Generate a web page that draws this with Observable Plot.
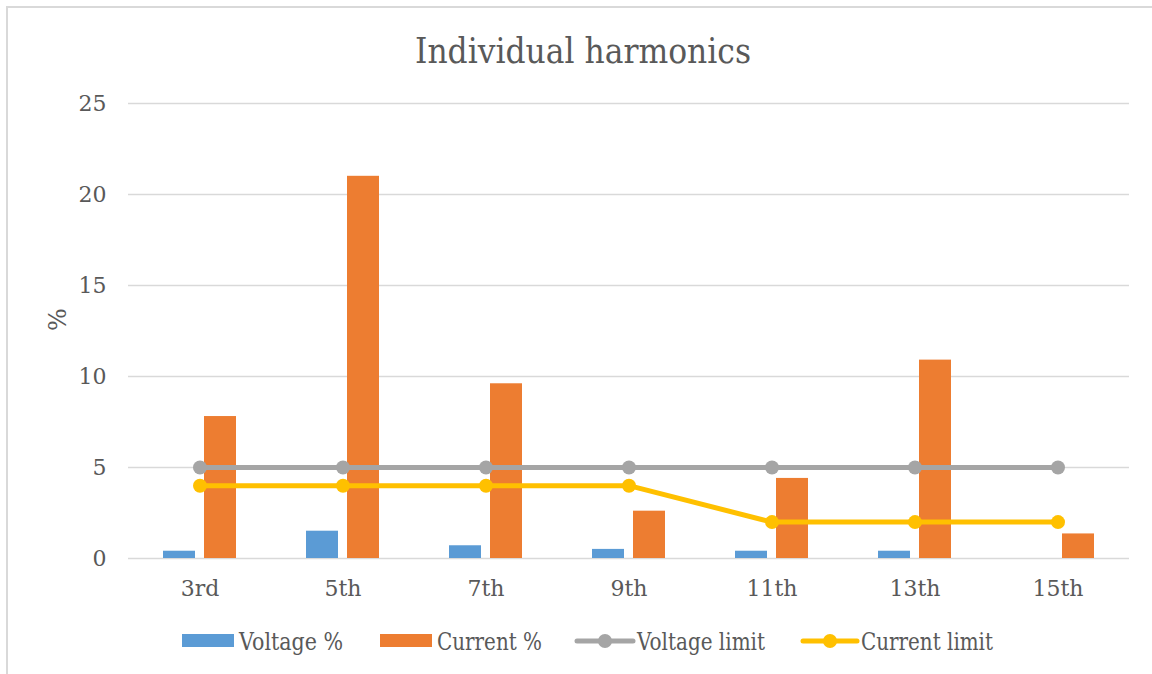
<!DOCTYPE html>
<html>
<head>
<meta charset="utf-8">
<script src="https://cdn.jsdelivr.net/npm/d3@7"></script>
<script src="https://cdn.jsdelivr.net/npm/@observablehq/plot@0.6"></script>
<style>
  html, body { margin: 0; padding: 0; background: #fff; }
  #wrap { position: relative; width: 1152px; height: 674px; overflow: hidden; font-family: "DejaVu Serif", serif; }
  #border { position: absolute; left: 6px; top: 6px; width: 1160px; height: 700px; border-left: 2px solid #d9d9d9; border-top: 2px solid #d9d9d9; pointer-events: none; }
  svg { display: block; }
</style>
</head>
<body>
<div id="wrap">
  <div id="title"></div>
  <div id="chart"></div>
  <div id="legend"></div>
  <div id="border"></div>
</div>
<script>
const categories = ["3rd", "5th", "7th", "9th", "11th", "13th", "15th"];
const voltagePct = [0.4, 1.5, 0.7, 0.5, 0.4, 0.4, 0];
const currentPct = [7.8, 21.0, 9.6, 2.6, 4.4, 10.9, 1.35];
const voltageLimit = [5, 5, 5, 5, 5, 5, 5];
const currentLimit = [4, 4, 4, 4, 2, 2, 2];
const yTicks = [0, 5, 10, 15, 20, 25];
const seriesNames = ["Voltage %", "Current %", "Voltage limit", "Current limit"];
const colors = ["#5B9BD5", "#ED7D31", "#A5A5A5", "#FFC000"];

const textColor = "#595959";

// Title
const tsvg = d3.create("svg").attr("width", 1152).attr("height", 80);
tsvg.append("text")
  .attr("x", 415).attr("y", 63)
  .attr("font-family", "DejaVu Serif").attr("font-size", 36)
  .attr("fill", textColor)
  .attr("textLength", 336).attr("lengthAdjust", "spacingAndGlyphs")
  .text("Individual harmonics");
document.getElementById("title").appendChild(tsvg.node());

const rows = categories.map((c, i) => ({
  cat: c, v: voltagePct[i], cur: currentPct[i], vl: voltageLimit[i], cl: currentLimit[i]
}));

const chart = Plot.plot({
  width: 1152,
  height: 530,
  marginTop: 23,
  marginBottom: 52,
  marginLeft: 128,
  marginRight: 23,
  style: { fontFamily: "DejaVu Serif", fontSize: "22px", color: textColor, background: "transparent" },
  x: { type: "band", domain: categories, paddingInner: 0.49, paddingOuter: 0.245, label: null },
  y: { domain: [0, 25], label: null },
  marks: [
    Plot.gridY(yTicks, { stroke: "#d9d9d9", strokeOpacity: 1, strokeWidth: 1.5 }),
    Plot.barY(rows, { x: "cat", y: "v", fill: colors[0], insetLeft: 0, insetRight: 41 }),
    Plot.barY(rows, { x: "cat", y: "cur", fill: colors[1], insetLeft: 41, insetRight: 0 }),
    Plot.line(rows, { x: "cat", y: "vl", stroke: colors[2], strokeWidth: 5, strokeLinecap: "round" }),
    Plot.dot(rows, { x: "cat", y: "vl", fill: colors[2], r: 7, stroke: "none" }),
    Plot.line(rows, { x: "cat", y: "cl", stroke: colors[3], strokeWidth: 5, strokeLinecap: "round" }),
    Plot.dot(rows, { x: "cat", y: "cl", fill: colors[3], r: 7, stroke: "none" }),
    Plot.axisY(yTicks, { tickSize: 0, tickPadding: 22, label: null, fontSize: 22 }),
    Plot.axisX({ tickSize: 0, tickPadding: 22, label: null, fontSize: 22 }),
    Plot.text(["%"], { text: d => d, frameAnchor: "left", dx: -70, rotate: -90, fontSize: 24, fill: textColor })
  ]
});
document.getElementById("chart").appendChild(chart);

// Legend
const lsvg = d3.create("svg").attr("width", 1152).attr("height", 64);
const items = [
  { kind: "rect", x0: 182, x1: 234, tx: 239, tl: 104 },
  { kind: "rect", x0: 380, x1: 432, tx: 437, tl: 105 },
  { kind: "line", x0: 577, x1: 633, tx: 637, tl: 128 },
  { kind: "line", x0: 803, x1: 857, tx: 861, tl: 132 }
];
items.forEach((it, i) => {
  if (it.kind === "rect") {
    lsvg.append("rect").attr("x", it.x0).attr("y", 24).attr("width", it.x1 - it.x0).attr("height", 13).attr("fill", colors[i]);
  } else {
    lsvg.append("line").attr("x1", it.x0).attr("x2", it.x1).attr("y1", 31).attr("y2", 31)
      .attr("stroke", colors[i]).attr("stroke-width", 5).attr("stroke-linecap", "round");
    lsvg.append("circle").attr("cx", (it.x0 + it.x1) / 2).attr("cy", 31).attr("r", 7).attr("fill", colors[i]);
  }
  lsvg.append("text").attr("x", it.tx).attr("y", 40)
    .attr("font-family", "DejaVu Serif").attr("font-size", 24).attr("fill", textColor)
    .attr("textLength", it.tl).attr("lengthAdjust", "spacingAndGlyphs")
    .text(seriesNames[i]);
});
document.getElementById("legend").appendChild(lsvg.node());
</script>
</body>
</html>
